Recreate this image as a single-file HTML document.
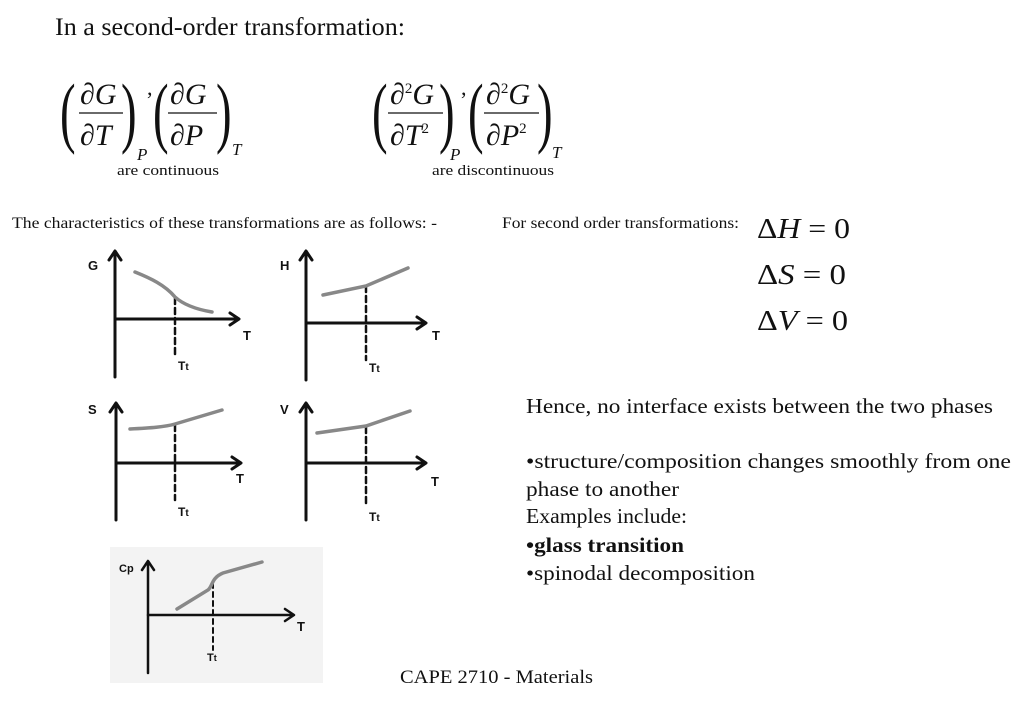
<!DOCTYPE html>
<html><head><meta charset="utf-8"><style>
html,body{margin:0;padding:0;background:#fff;}
svg{display:block;}
text{font-family:"Liberation Serif",serif;fill:#111;}
.h{font-family:"Liberation Sans",sans-serif;font-weight:bold;fill:#111;}
</style></head><body>
<svg width="1024" height="705" viewBox="0 0 1024 705" xmlns="http://www.w3.org/2000/svg">
<text x="55" y="35" font-size="25" textLength="350" lengthAdjust="spacingAndGlyphs">In a second-order transformation:</text>

<!-- Eq 1 -->
<g font-size="30">
<text x="60" y="138" font-size="78" transform="scale(0.6,1)" transform-origin="60 138">(</text>
<text x="80" y="104">∂<tspan font-style="italic">G</tspan></text>
<line x1="79" y1="113" x2="123" y2="113" stroke="#111" stroke-width="1.3"/>
<text x="80" y="145">∂<tspan font-style="italic">T</tspan></text>
<text x="121" y="138" font-size="78" transform="scale(0.6,1)" transform-origin="121 138">)</text>
<text x="137" y="160" font-size="17" font-style="italic">P</text>
<text x="147" y="95" font-size="22">,</text>
<text x="153" y="138" font-size="78" transform="scale(0.6,1)" transform-origin="153 138">(</text>
<text x="170" y="104">∂<tspan font-style="italic">G</tspan></text>
<line x1="168" y1="113" x2="217" y2="113" stroke="#111" stroke-width="1.3"/>
<text x="170" y="145">∂<tspan font-style="italic">P</tspan></text>
<text x="216" y="138" font-size="78" transform="scale(0.6,1)" transform-origin="216 138">)</text>
<text x="232" y="155" font-size="17" font-style="italic">T</text>
</g>
<text x="117" y="175" font-size="15" textLength="102" lengthAdjust="spacingAndGlyphs">are continuous</text>

<!-- Eq 2 -->
<g font-size="30">
<text x="372" y="138" font-size="78" transform="scale(0.6,1)" transform-origin="372 138">(</text>
<text x="390" y="104">∂<tspan font-size="15" dy="-11">2</tspan><tspan font-style="italic" dy="11">G</tspan></text>
<line x1="388" y1="113" x2="443" y2="113" stroke="#111" stroke-width="1.3"/>
<text x="390" y="145">∂<tspan font-style="italic">T</tspan><tspan font-size="15" dy="-12">2</tspan></text>
<text x="439" y="138" font-size="78" transform="scale(0.6,1)" transform-origin="439 138">)</text>
<text x="450" y="160" font-size="17" font-style="italic">P</text>
<text x="461" y="95" font-size="22">,</text>
<text x="468" y="138" font-size="78" transform="scale(0.6,1)" transform-origin="468 138">(</text>
<text x="486" y="104">∂<tspan font-size="15" dy="-11">2</tspan><tspan font-style="italic" dy="11">G</tspan></text>
<line x1="484" y1="113" x2="539" y2="113" stroke="#111" stroke-width="1.3"/>
<text x="486" y="145">∂<tspan font-style="italic">P</tspan><tspan font-size="15" dy="-12">2</tspan></text>
<text x="537" y="138" font-size="78" transform="scale(0.6,1)" transform-origin="537 138">)</text>
<text x="552" y="158" font-size="17" font-style="italic">T</text>
</g>
<text x="432" y="175" font-size="15" textLength="122" lengthAdjust="spacingAndGlyphs">are discontinuous</text>

<text x="12" y="228" font-size="16" textLength="425" lengthAdjust="spacingAndGlyphs">The characteristics of these transformations are as follows: -</text>
<text x="502" y="228" font-size="16" textLength="237" lengthAdjust="spacingAndGlyphs">For second order transformations:</text>
<g font-size="28">
<text x="757" y="238" textLength="93" lengthAdjust="spacingAndGlyphs">Δ<tspan font-style="italic">H</tspan> = 0</text>
<text x="757" y="284" textLength="89" lengthAdjust="spacingAndGlyphs">Δ<tspan font-style="italic">S</tspan> = 0</text>
<text x="757" y="330" textLength="91" lengthAdjust="spacingAndGlyphs">Δ<tspan font-style="italic">V</tspan> = 0</text>
</g>

<g font-size="21">
<text x="526" y="413" textLength="467" lengthAdjust="spacingAndGlyphs">Hence, no interface exists between the two phases</text>
<text x="526" y="468" textLength="485" lengthAdjust="spacingAndGlyphs">•structure/composition changes smoothly from one</text>
<text x="526" y="496" textLength="153" lengthAdjust="spacingAndGlyphs">phase to another</text>
<text x="526" y="523" textLength="161" lengthAdjust="spacingAndGlyphs">Examples include:</text>
<text x="526" y="552" font-weight="bold" textLength="158" lengthAdjust="spacingAndGlyphs">•glass transition</text>
<text x="526" y="580" textLength="229" lengthAdjust="spacingAndGlyphs">•spinodal decomposition</text>
</g>
<text x="400" y="683" font-size="19" textLength="193" lengthAdjust="spacingAndGlyphs">CAPE 2710 - Materials</text>

<!-- Cp background -->
<rect x="110" y="547" width="213" height="136" fill="#f3f3f3"/>

<g stroke="#111" stroke-width="3" fill="none" stroke-linecap="round" stroke-linejoin="round">
<path d="M115 377 V252 M109 260 L115 251 L121 260"/>
<path d="M115 319 H238 M230 313 L239 319 L230 325"/>
<path d="M175 298 V358" stroke-dasharray="6,4" stroke-width="2.5"/>
<path d="M306 380 V252 M300 260 L306 251 L312 260"/>
<path d="M306 323 H425 M417 317 L426 323 L417 329"/>
<path d="M366 286 V360" stroke-dasharray="6,4" stroke-width="2.5"/>
<path d="M116 520 V404 M110 412 L116 403 L122 412"/>
<path d="M116 463 H240 M232 457 L241 463 L232 469"/>
<path d="M175 425 V500" stroke-dasharray="6,4" stroke-width="2.5"/>
<path d="M306 520 V404 M300 412 L306 403 L312 412"/>
<path d="M306 463 H425 M417 457 L426 463 L417 469"/>
<path d="M366 427 V505" stroke-dasharray="6,4" stroke-width="2.5"/>
<path d="M148 673 V562 M142 570 L148 561 L154 570" stroke-width="2.5"/>
<path d="M148 615 H293 M285 609 L294 615 L285 621" stroke-width="2.5"/>
<path d="M213 583 V650" stroke-dasharray="5,4" stroke-width="2"/>
</g>
<g stroke="#888" stroke-width="3.5" fill="none" stroke-linecap="round">
<path d="M135 272 C150 278 165 285 175 297 C185 306 200 310 212 312"/>
<path d="M323 295 L366 286 L408 268"/>
<path d="M130 429 C150 428 165 427 175 424 L222 410"/>
<path d="M317 433 L366 426 L410 411"/>
<path d="M177 609 L208 590 C213 586 211 578 223 573 L262 562"/>
</g>
<g class="h" font-size="13">
<text x="88" y="270" class="h">G</text>
<text x="280" y="270" class="h">H</text>
<text x="243" y="340" class="h">T</text>
<text x="432" y="340" class="h">T</text>
<text x="178" y="370" class="h" font-size="12">T<tspan font-size="10">t</tspan></text>
<text x="369" y="372" class="h" font-size="12">T<tspan font-size="10">t</tspan></text>
<text x="88" y="414" class="h">S</text>
<text x="280" y="414" class="h">V</text>
<text x="236" y="483" class="h">T</text>
<text x="431" y="486" class="h">T</text>
<text x="178" y="516" class="h" font-size="12">T<tspan font-size="10">t</tspan></text>
<text x="369" y="521" class="h" font-size="12">T<tspan font-size="10">t</tspan></text>
<text x="119" y="572" class="h" font-size="11">Cp</text>
<text x="297" y="631" class="h">T</text>
<text x="207" y="661" class="h" font-size="11">T<tspan font-size="9">t</tspan></text>
</g>
</svg>
</body></html>
